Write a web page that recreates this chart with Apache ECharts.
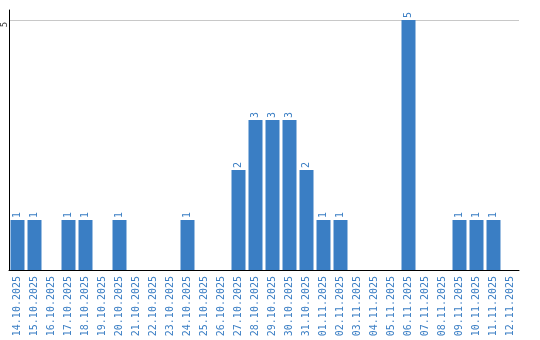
<!DOCTYPE html>
<html><head><meta charset="utf-8">
<script src="https://cdn.jsdelivr.net/npm/echarts@6/dist/echarts.min.js"></script>
<style>html,body{margin:0;padding:0;background:#fff}#c{width:540px;height:340px}</style>
</head><body><div id="c"></div>
<script>
const categories = ['14.10.2025','15.10.2025','16.10.2025','17.10.2025','18.10.2025','19.10.2025','20.10.2025','21.10.2025','22.10.2025','23.10.2025','24.10.2025','25.10.2025','26.10.2025','27.10.2025','28.10.2025','29.10.2025','30.10.2025','31.10.2025','01.11.2025','02.11.2025','03.11.2025','04.11.2025','05.11.2025','06.11.2025','07.11.2025','08.11.2025','09.11.2025','10.11.2025','11.11.2025','12.11.2025'];
const values = [1,1,0,1,1,0,1,0,0,0,1,0,0,2,3,3,3,2,1,1,0,0,0,5,0,0,1,1,1,0];
const blue = '#3a7ec4';
const chart = echarts.init(document.getElementById('c'));
chart.setOption({
  animation: false,
  grid: {left: 9, top: 10, width: 510, bottom: 70, containLabel: false, outerBoundsMode: 'none'},
  xAxis: {
    type: 'category', data: categories,
    axisLine: {lineStyle: {color: '#000', width: 1}},
    axisTick: {show: false},
    axisLabel: {rotate: 90, interval: 0, color: blue, fontFamily: 'DejaVu Sans Mono', fontSize: 10, margin: 6}
  },
  yAxis: {
    type: 'value', min: 0, max: 5.2, interval: 5,
    axisLine: {show: true, lineStyle: {color: '#000', width: 1}},
    axisTick: {show: false},
    splitLine: {lineStyle: {color: '#c8c8c8'}, showMaxLine: false},
    axisLabel: {rotate: 90, margin: 0, color: '#333', fontFamily: 'DejaVu Sans Mono', fontSize: 9,
      padding: [0, 9, 0, 0],
      formatter: v => v === 0 ? '' : String(v), showMaxLabel: false}
  },
  series: [{
    type: 'bar', data: values.map(v => v === 0 ? null : v), barWidth: 14,
    itemStyle: {color: blue},
    label: {show: true, position: 'top', rotate: 90, align: 'left', verticalAlign: 'middle', distance: 2,
      color: blue, fontFamily: 'DejaVu Sans Mono', fontSize: 10}
  }]
});
</script></body></html>
